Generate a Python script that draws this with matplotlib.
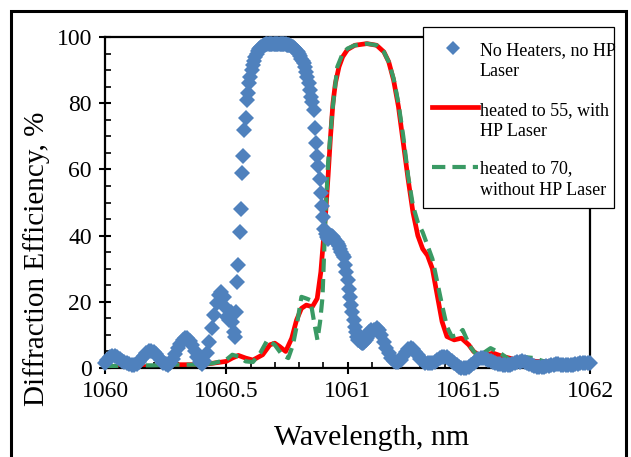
import numpy as np
import matplotlib
matplotlib.use("Agg")
import matplotlib.pyplot as plt
from matplotlib.lines import Line2D
from matplotlib.patches import Rectangle
from matplotlib.ticker import MultipleLocator

plt.rcParams['font.family'] = ['Liberation Serif', 'DejaVu Serif']

# ---------------- data ----------------
# Series 1: No heaters, no HP laser (diamond markers)
blue_wl_a = [1060.00 + 0.01 * i for i in range(50)]
blue_val_a = [1.5, 2.5, 3.2, 3.6, 3.6, 3.2, 2.7, 2.2, 1.8, 1.4,
              1.1, 0.9, 0.9, 1.2, 1.8, 2.7, 3.6, 4.4, 5.0, 5.2,
              4.9, 4.2, 3.3, 2.4, 1.6, 1.1, 1.0, 1.5, 2.7, 4.2,
              5.9, 7.4, 8.6, 9.2, 9.2, 8.3, 6.8, 5.0, 3.2, 1.8,
              1.1, 2.0, 4.5, 8.0, 12.0, 16.0, 19.5, 22.0, 23.0, 21.5]
blue_wl_b = [1060.50 + 0.005 * i for i in range(120)]
blue_val_b = [18.0, 15.5, 14.5, 16.0, 17.0, 14.0, 11.0, 9.5, 17.0, 26.0,
              31.0, 41.0, 48.0, 59.0, 64.0, 72.0, 75.5, 81.0, 83.0, 86.0,
              88.0, 90.0, 91.5, 92.8, 94.0, 95.0, 95.8, 96.3, 96.7, 97.0,
              97.3, 97.5, 97.7, 97.8, 97.9, 98.0, 98.0, 98.0, 98.0, 98.0,
              98.0, 98.0, 98.0, 98.0, 98.0, 98.0, 98.0, 98.0, 97.9, 97.8,
              97.7, 97.6, 97.5, 97.3, 97.1, 96.9, 96.6, 96.3, 95.9, 95.4,
              94.8, 94.2, 93.5, 92.7, 92.0, 91.0, 89.5, 88.0, 86.0, 84.0,
              82.0, 80.5, 78.0, 72.5, 68.0, 64.0, 61.0, 57.0, 53.0, 49.0,
              45.5, 42.0, 40.5, 39.5, 39.0, 39.5, 40.0, 40.0, 39.5, 39.0,
              38.5, 38.0, 37.5, 37.0, 36.0, 35.0, 34.0, 33.5, 31.0, 29.0,
              26.5, 24.0, 21.5, 19.0, 17.0, 14.5, 12.5, 11.0, 9.5, 8.5,
              8.1, 7.8, 7.6, 7.5, 7.8, 8.5, 9.2, 10.0, 10.8, 11.5]
blue_wl_c = [1061.11 + 0.01 * i for i in range(90)]
blue_val_c = [11.5, 12.0, 11.5, 10.0, 8.0, 6.0, 4.5, 3.0, 2.2,
              1.8, 1.8, 2.5, 3.5, 4.8, 5.6, 6.0, 5.6, 4.8, 3.8,
              2.8, 2.0, 1.6, 1.5, 1.5, 1.4, 1.8, 2.4, 2.9, 3.3,
              3.4, 3.3, 2.8, 2.2, 1.5, 0.9, 0.4, 0.1, 0.0, 0.0,
              0.3, 0.8, 1.5, 2.1, 2.6, 2.9, 3.0, 2.8, 2.5, 2.2,
              1.9, 1.6, 1.3, 1.1, 1.0, 0.9, 0.9, 1.0, 1.2, 1.5,
              1.7, 1.9, 2.0, 1.9, 1.6, 1.2, 0.9, 0.6, 0.4, 0.3,
              0.3, 0.4, 0.5, 0.7, 0.9, 1.0, 1.1, 1.1, 1.0, 0.9,
              0.8, 0.8, 0.9, 1.0, 1.2, 1.3, 1.4, 1.5, 1.5, 1.5, 1.5]
blue_wl = blue_wl_a + blue_wl_b + blue_wl_c
blue_val = blue_val_a + blue_val_b + blue_val_c

# Series 2: heated to 55, with HP laser (solid red)
red_wl = [1060.00, 1060.10, 1060.20, 1060.30, 1060.35, 1060.40, 1060.45, 1060.50,
          1060.525, 1060.55, 1060.58, 1060.61, 1060.65, 1060.68, 1060.70, 1060.72,
          1060.745, 1060.77, 1060.79, 1060.81, 1060.83, 1060.855, 1060.875, 1060.89,
          1060.90, 1060.91, 1060.92, 1060.93, 1060.94, 1060.95, 1060.965, 1060.98,
          1061.00, 1061.03, 1061.08, 1061.12, 1061.15, 1061.17, 1061.19, 1061.21,
          1061.23, 1061.25, 1061.27, 1061.29, 1061.31, 1061.33, 1061.35, 1061.37,
          1061.39, 1061.41, 1061.44, 1061.47, 1061.50, 1061.52, 1061.55, 1061.60,
          1061.64, 1061.70, 1061.78, 1061.88, 1061.96, 1062.00]
red_val = [0.3, 0.3, 0.5, 1.0, 1.0, 1.0, 1.5, 2.0,
           3.0, 3.8, 3.0, 2.4, 4.0, 7.0, 7.5, 6.5,
           5.0, 9.0, 14.5, 18.0, 19.0, 18.5, 21.0, 29.0,
           38.0, 47.0, 58.0, 70.0, 80.0, 86.0, 91.0, 94.0,
           96.2, 97.5, 98.0, 97.5, 95.5, 92.5, 87.0, 79.0,
           68.0, 57.0, 47.0, 40.0, 36.0, 34.0, 30.0, 22.0,
           14.0, 9.5, 8.5, 9.0, 7.0, 5.0, 3.5, 4.5,
           3.5, 2.4, 2.0, 1.8, 1.5, 1.0]

# Series 3: heated to 70, without HP laser (dashed green)
green_wl = [1060.00, 1060.10, 1060.20, 1060.30, 1060.40, 1060.45, 1060.50, 1060.525,
            1060.55, 1060.58, 1060.61, 1060.64, 1060.67, 1060.70, 1060.73, 1060.756,
            1060.775, 1060.79, 1060.81, 1060.83, 1060.847, 1060.862, 1060.876, 1060.887,
            1060.897, 1060.909, 1060.92, 1060.938, 1060.958, 1060.98, 1061.00, 1061.03,
            1061.08, 1061.12, 1061.15, 1061.17, 1061.19, 1061.21, 1061.23, 1061.25,
            1061.27, 1061.29, 1061.31, 1061.33, 1061.35, 1061.37, 1061.39, 1061.41,
            1061.43, 1061.455, 1061.475, 1061.49, 1061.51, 1061.54, 1061.57, 1061.59,
            1061.63, 1061.67, 1061.73, 1061.77, 1061.83, 1061.91, 1061.975, 1062.00]
green_val = [0.5, 0.8, 0.8, 1.0, 1.0, 1.5, 2.5, 4.0,
             3.5, 2.0, 1.8, 4.5, 8.5, 7.0, 4.0, 3.0,
             7.0, 12.5, 21.5, 21.0, 20.5, 14.0, 8.5, 14.0,
             21.5, 45.6, 62.0, 78.0, 91.0, 95.0, 96.5, 97.5,
             98.0, 97.5, 95.5, 92.5, 87.5, 80.0, 70.0, 58.0,
             49.0, 44.0, 41.0, 37.0, 33.0, 26.0, 19.0, 12.5,
             9.5, 10.0, 11.5, 9.0, 6.0, 3.3, 5.0, 6.0,
             4.5, 2.4, 3.3, 3.0, 1.5, 1.8, 1.0, 1.0]

x_ticks = [1060, 1060.5, 1061, 1061.5, 1062]
x_tick_labels = ["1060", "1060.5", "1061", "1061.5", "1062"]
y_ticks = [0, 20, 40, 60, 80, 100]

legend_lines = [["No Heaters, no HP", "Laser"],
                ["heated to 55, with", "HP Laser"],
                ["heated to 70,", "without HP Laser"]]

# ---------------- figure ----------------
W, H = 631, 457
fig = plt.figure(figsize=(W / 100, H / 100), dpi=100)

def fx(px):
    return px / W

def fy(py):
    return 1 - py / H

ax = fig.add_axes([fx(105), fy(368), fx(590) - fx(105), fy(37) - fy(368)])

BLUE = "#4F81BD"
RED = "#FF0000"
GREEN = "#3A9A64"
MS = 8.5

ax.plot(red_wl, red_val, color=RED, lw=3.4, solid_joinstyle='round', zorder=2)
ax.plot(green_wl, green_val, color=GREEN, lw=3.0, dashes=(3.2, 1.7), zorder=3)
ax.plot(blue_wl, blue_val, linestyle='none', marker='D', markersize=MS,
        color=BLUE, markeredgewidth=0, zorder=4, clip_on=False)

ax.set_xlim(1060, 1062)
ax.set_ylim(0, 100)
ax.set_xticks(x_ticks)
ax.set_xticklabels(x_tick_labels)
ax.set_yticks(y_ticks)
ax.xaxis.set_minor_locator(MultipleLocator(0.1))
ax.yaxis.set_minor_locator(MultipleLocator(5))
ax.tick_params(which='major', direction='inout', length=9, width=1.5,
               labelsize=17, pad=5, colors='black')
ax.tick_params(which='minor', direction='in', length=4, width=1.2)
for s in ax.spines.values():
    s.set_linewidth(1.6)

# axis titles (positioned as in the reference)
fig.text(fx(372), fy(445), "Wavelength, nm", fontsize=21.5, ha='center', va='baseline')
fig.text(fx(37), fy(259), "Diffraction Efficiency, %", fontsize=21, rotation=90,
         ha='center', va='center')

# outer frame
fig.patches.append(Rectangle((fx(11), fy(470)), fx(626) - fx(11), fy(11) - fy(470),
                             transform=fig.transFigure, fill=False,
                             edgecolor='black', linewidth=2.2))

# legend (manual layout)
lg_left, lg_top, lg_right, lg_bot = 423, 27, 614, 208
fig.patches.append(Rectangle((fx(lg_left), fy(lg_bot)), fx(lg_right) - fx(lg_left),
                             fy(lg_top) - fy(lg_bot), transform=fig.transFigure,
                             facecolor='white', edgecolor='black', linewidth=0.9,
                             zorder=5))
baselines = [[55, 76], [115, 136], [173, 195]]
for lines, bls in zip(legend_lines, baselines):
    for t, b in zip(lines, bls):
        fig.text(fx(480), fy(b), t, fontsize=13, va='baseline', ha='left', zorder=6)
fig.add_artist(Line2D([fx(453)], [fy(48)], marker='D', markersize=7, color=BLUE,
                      markeredgewidth=0, transform=fig.transFigure, zorder=6))
fig.add_artist(Line2D([fx(432), fx(478)], [fy(107), fy(107)], color=RED, lw=3.4,
                      transform=fig.transFigure, zorder=6))
fig.add_artist(Line2D([fx(432), fx(478)], [fy(167), fy(167)], color=GREEN, lw=3.0,
                      dashes=(3.2, 1.7), transform=fig.transFigure, zorder=6))

fig.savefig("out.png", dpi=100)
